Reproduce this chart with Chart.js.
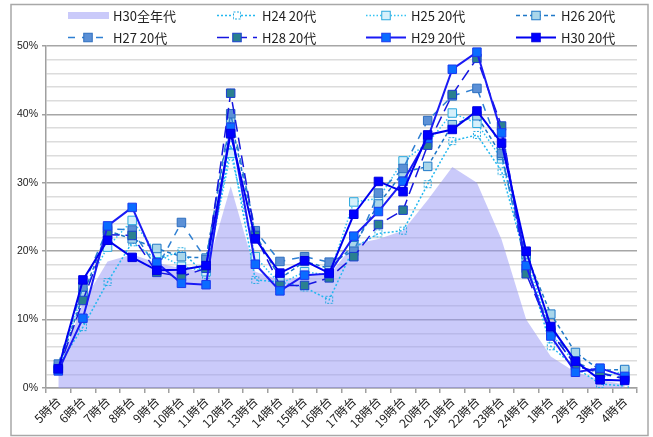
<!DOCTYPE html>
<html>
<head>
<meta charset="utf-8">
<script src="https://cdn.jsdelivr.net/npm/chart.js@4.4.1/dist/chart.umd.min.js"></script>
<style>
  html, body { margin: 0; background: #fff; }
  #wrap { width: 653px; height: 437px; }
</style>
</head>
<body>
<div id="wrap"><canvas id="chart" width="653" height="437"></canvas></div>
<script>
// Hour buckets along the x axis (5am through 4am next day).
const HOURS = ["5時台", "6時台", "7時台", "8時台", "9時台", "10時台", "11時台", "12時台",
  "13時台", "14時台", "15時台", "16時台", "17時台", "18時台", "19時台", "20時台",
  "21時台", "22時台", "23時台", "24時台", "1時台", "2時台", "3時台", "4時台"];

// Values in %.
const H30_ALL = [2.5, 12.5, 18.5, 19.5, 18.3, 17.5, 17.0, 29.5, 17.0, 15.8, 16.3, 16.5,
  21.0, 21.8, 23.0, 27.5, 32.3, 30.0, 21.7, 10.0, 4.6, 2.3, 1.2, 0.5];
const H24_20 = [3.3, 8.9, 15.5, 21.3, 18.8, 20.0, 16.5, 35.5, 15.8, 15.5, 14.7, 12.9,
  20.5, 22.6, 23.0, 29.8, 36.1, 37.0, 31.7, 18.5, 6.1, 3.0, 0.6, 0.3];
const H25_20 = [3.0, 14.0, 20.6, 24.5, 19.7, 17.8, 17.0, 34.3, 19.2, 15.2, 17.0, 16.5,
  27.2, 27.7, 33.2, 35.8, 40.2, 38.7, 33.5, 19.0, 8.0, 3.5, 1.5, 2.5];
const H26_20 = [2.8, 13.5, 23.0, 21.8, 20.4, 19.2, 19.0, 39.4, 22.5, 16.0, 18.5, 17.5,
  20.8, 26.9, 31.5, 32.4, 38.5, 39.8, 34.0, 19.5, 10.8, 5.2, 2.6, 2.7];
const H27_20 = [3.5, 14.8, 23.3, 23.1, 17.5, 24.2, 18.8, 40.1, 23.0, 18.5, 19.2, 18.4,
  20.0, 28.5, 32.1, 39.1, 42.7, 43.8, 34.3, 17.5, 8.5, 3.8, 2.2, 1.5];
const H28_20 = [2.6, 12.8, 22.4, 22.3, 16.9, 16.3, 17.5, 43.1, 22.3, 15.0, 15.0, 16.1,
  19.2, 23.9, 26.0, 35.5, 42.9, 48.2, 38.3, 16.7, 8.2, 3.3, 2.2, 1.3];
const H29_20 = [2.5, 10.2, 23.7, 26.4, 18.3, 15.3, 15.1, 38.1, 18.1, 14.2, 16.5, 16.7,
  22.2, 25.8, 30.2, 36.5, 46.6, 49.1, 37.3, 17.9, 7.6, 2.3, 2.9, 1.7];
const H30_20 = [2.8, 15.8, 21.6, 19.1, 17.2, 17.3, 17.9, 37.2, 21.8, 16.8, 18.6, 16.8,
  25.4, 30.2, 28.7, 37.0, 37.8, 40.5, 35.8, 20.0, 9.0, 3.9, 1.2, 1.1];

const CJK = '"Noto Sans CJK JP", "Noto Sans", sans-serif';
const AREA_FILL = "rgba(150,150,245,0.5)";

// Hollow square with a dashed outline, used as H24's marker (Chart.js has no dashed point border).
function dashedSquare(color) {
  const c = document.createElement("canvas");
  c.width = 10; c.height = 10;
  const g = c.getContext("2d");
  g.strokeStyle = color;
  g.lineWidth = 1;
  g.setLineDash([2, 1.5]);
  g.strokeRect(1.5, 1.5, 7, 7);
  return c;
}

function lineSet(label, data, o) {
  return {
    type: "line", label, data,
    borderColor: o.line, borderWidth: o.width || 1.5, borderDash: o.dash || [],
    backgroundColor: o.fill, pointBackgroundColor: o.fill,
    pointBorderColor: o.edge, pointBorderWidth: 1,
    pointStyle: o.style || "rect", pointRadius: 6, pointHoverRadius: 6,
    tension: 0, fill: false, order: o.order,
  };
}

const datasets = [
  {
    type: "line", label: "H30全年代", data: H30_ALL,
    borderWidth: 0, borderColor: "rgba(0,0,0,0)", backgroundColor: AREA_FILL,
    pointRadius: 0, fill: "origin", tension: 0, order: 9,
  },
  lineSet("H24 20代", H24_20, { line: "#22b8f0", dash: [2, 2], fill: "rgba(0,0,0,0)", edge: "#22aee6", style: dashedSquare("#1fa8e0"), order: 7 }),
  lineSet("H25 20代", H25_20, { line: "#33c3f3", dash: [1.5, 2], fill: "#d6f0fb", edge: "#2aa8dd", order: 6 }),
  lineSet("H26 20代", H26_20, { line: "#1f78c8", dash: [4, 3], fill: "#a9d6ea", edge: "#1f78c8", order: 5 }),
  lineSet("H27 20代", H27_20, { line: "#2e7fd2", dash: [7, 7], fill: "#5b90d6", edge: "#2e6fc0", order: 4 }),
  lineSet("H28 20代", H28_20, { line: "#1515e0", dash: [12, 6], fill: "#2a8090", edge: "#1a3fd0", order: 3 }),
  lineSet("H29 20代", H29_20, { line: "#1a1af5", width: 2, fill: "#0a6cff", edge: "#1a3af0", order: 2 }),
  lineSet("H30 20代", H30_20, { line: "#0000f0", width: 2, fill: "#0000ff", edge: "#0000e0", order: 1 }),
];

// Outer frame of the chart object.
const framePlugin = {
  id: "frame",
  beforeDraw(chart) {
    const ctx = chart.ctx;
    ctx.save();
    ctx.fillStyle = "#fff";
    ctx.fillRect(0, 0, chart.width, chart.height);
    ctx.strokeStyle = "#a8a8a8";
    ctx.lineWidth = 1.5;
    ctx.strokeRect(11, 4.5, 637, 431);
    ctx.restore();
  },
};

// Four-column legend like the spreadsheet one: line sample, marker, label.
const legendPlugin = {
  id: "gridLegend",
  afterDraw(chart) {
    const ctx = chart.ctx;
    const cols = [68, 217, 366, 516];
    const rows = [15.5, 37.5];
    ctx.save();
    chart.data.datasets.forEach((ds, i) => {
      const x = cols[i % 4], y = rows[Math.floor(i / 4)];
      if (ds.fill === "origin") {
        ctx.fillStyle = ds.backgroundColor;
        ctx.fillRect(x, y - 3.5, 41, 7);
      } else {
        ctx.strokeStyle = ds.borderColor;
        ctx.lineWidth = ds.borderWidth;
        ctx.setLineDash(ds.borderDash);
        ctx.beginPath();
        ctx.moveTo(x, y); ctx.lineTo(x + 40, y);
        ctx.stroke();
        ctx.setLineDash([]);
        const m = x + 20;
        if (ds.pointStyle instanceof HTMLCanvasElement) {
          ctx.fillStyle = "#fff";
          ctx.fillRect(m - 4, y - 4, 8, 8);
          ctx.drawImage(ds.pointStyle, m - 5, y - 5);
        } else {
          ctx.fillStyle = ds.pointBackgroundColor;
          ctx.fillRect(m - 4.25, y - 4.25, 8.5, 8.5);
          ctx.strokeStyle = ds.pointBorderColor;
          ctx.lineWidth = 1;
          ctx.strokeRect(m - 4.25, y - 4.25, 8.5, 8.5);
        }
      }
      ctx.fillStyle = "#222";
      ctx.font = "13px " + CJK;
      ctx.textBaseline = "middle";
      ctx.fillText(ds.label, x + 45, y + 0.5);
    });
    ctx.restore();
  },
};

const isMajor = (v) => v % 10 === 0;

new Chart(document.getElementById("chart"), {
  type: "line",
  data: { labels: HOURS, datasets },
  plugins: [framePlugin, legendPlugin],
  options: {
    responsive: false,
    animation: false,
    devicePixelRatio: 1,
    layout: { padding: { top: 46, left: 11, right: 16, bottom: 0 } },
    plugins: { legend: { display: false }, tooltip: { enabled: false } },
    scales: {
      x: {
        offset: true,
        grid: { offset: true, drawOnChartArea: false, drawTicks: true, tickLength: 5, color: "#a0a0a0", lineWidth: 1.5 },
        border: { color: "#a0a0a0", width: 1.5 },
        ticks: {
          autoSkip: false, minRotation: 45, maxRotation: 45, padding: 1,
          color: "#222", font: { family: CJK, size: 12 },
        },
        afterFit(s) { s.height = 49; },
      },
      y: {
        min: 0, max: 50,
        ticks: {
          stepSize: 2, maxTicksLimit: 40, autoSkip: false, padding: 4,
          callback: (v) => (isMajor(v) ? v + "%" : ""),
          color: "#222", font: { family: '"Liberation Sans", Arial, sans-serif', size: 10.5 },
        },
        grid: {
          lineWidth: 1.5, tickLength: 4,
          color: (c) => (isMajor(c.tick.value) ? "#a6a6a6" : "#dcdcdc"),
          tickColor: (c) => (isMajor(c.tick.value) ? "#a0a0a0" : "rgba(0,0,0,0)"),
        },
        border: { color: "#a0a0a0", width: 1.5 },
        afterFit(s) { s.width = 35; },
      },
    },
  },
});
</script>
</body>
</html>
